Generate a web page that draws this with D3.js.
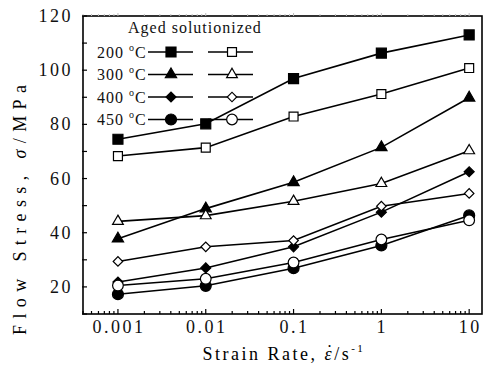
<!DOCTYPE html>
<html>
<head>
    <script src="https://d3js.org/d3.v7.min.js"></script>
    <style>
        body { margin: 0; background: #fff; }
        svg text { font-family: "Times New Roman", Times, "Liberation Serif", serif; }
        .tick-label { font-size: 18px; letter-spacing: 2.5px; fill: #111; }
        .legend text { font-size: 16px; letter-spacing: 1px; fill: #111; }
        .series-line { fill: none; stroke: #000; stroke-width: 1.6; }
    </style>
</head>
<body>
<div id="chart"></div>
<script>
// strain rates (1/s)
const rates = [0.001, 0.01, 0.1, 1, 10];
const temps = ["200", "300", "400", "450"];

// flow stress, MPa
const aged200 = [74.5, 80.2, 96.9, 106.3, 113.0];
const sol200  = [68.3, 71.4, 82.9, 91.2, 100.8];
const aged300 = [37.8, 48.9, 58.6, 71.5, 89.8];
const sol300  = [44.2, 46.3, 51.6, 58.2, 70.3];
const aged400 = [21.8, 27.0, 34.8, 47.6, 62.5];
const sol400  = [29.4, 34.8, 37.1, 49.8, 54.5];
const aged450 = [17.3, 20.4, 26.9, 35.3, 46.4];
const sol450  = [20.5, 23.0, 29.0, 37.5, 44.6];

const yTicks = [20, 40, 60, 80, 100, 120];

const series = [
    { temp: "200", shape: "square",   filled: true,  values: aged200 },
    { temp: "200", shape: "square",   filled: false, values: sol200 },
    { temp: "300", shape: "triangle", filled: true,  values: aged300 },
    { temp: "300", shape: "triangle", filled: false, values: sol300 },
    { temp: "400", shape: "diamond",  filled: true,  values: aged400 },
    { temp: "400", shape: "diamond",  filled: false, values: sol400 },
    { temp: "450", shape: "circle",   filled: true,  values: aged450 },
    { temp: "450", shape: "circle",   filled: false, values: sol450 }
];

const width = 485, height = 376;
const svg = d3.select("#chart").append("svg")
    .attr("width", width).attr("height", height);

const x = d3.scaleLog().domain([0.0004, 14]).range([83, 482]);
const y = d3.scaleLinear().domain([10, 120]).range([314, 16]);

// marker drawing
function marker(g, shape, filled) {
    let sym, size, rot = 0;
    if (shape === "square") { sym = d3.symbolSquare; size = filled ? 100 : 80; }
    if (shape === "triangle") { sym = d3.symbolTriangle; size = filled ? 55 : 50; }
    if (shape === "diamond") { sym = d3.symbolSquare; size = filled ? 50 : 45; rot = 45; }
    if (shape === "circle") { sym = d3.symbolCircle; size = filled ? 95 : 90; }
    g.append("path")
        .attr("d", d3.symbol().type(sym).size(size)())
        .attr("transform", `rotate(${rot})`)
        .attr("fill", filled ? "#000" : "#fff")
        .attr("stroke", "#000")
        .attr("stroke-width", 1.2);
}

// series lines & markers
const line = d3.line().x((d, i) => x(rates[i])).y(d => y(d));
series.forEach(s => {
    svg.append("path").datum(s.values).attr("class", "series-line").attr("d", line);
});
series.forEach(s => {
    s.values.forEach((v, i) => {
        const g = svg.append("g").attr("transform", `translate(${x(rates[i])},${y(v)})`);
        marker(g, s.shape, s.filled);
    });
});

// frame
const x0 = x.range()[0], x1 = x.range()[1], y0 = y.range()[0], y1 = y.range()[1];
svg.append("rect")
    .attr("x", x0).attr("y", y1).attr("width", x1 - x0).attr("height", y0 - y1)
    .attr("fill", "none").attr("stroke", "#000").attr("stroke-width", 1.6);

// x ticks (inward)
const xMinor = [];
for (let e = -4; e <= 1; e++) {
    for (let m = 1; m <= 9; m++) {
        const v = m * Math.pow(10, e);
        if (v >= x.domain()[0] && v <= x.domain()[1]) xMinor.push({ v, major: m === 1 });
    }
}
svg.append("g").selectAll("line").data(xMinor).join("line")
    .attr("x1", d => x(d.v)).attr("x2", d => x(d.v))
    .attr("y1", y0).attr("y2", d => y0 - (d.major ? 5 : 3))
    .attr("stroke", "#000").attr("stroke-width", 1.2);
svg.append("g").selectAll("line").data(xMinor).join("line")
    .attr("x1", d => x(d.v)).attr("x2", d => x(d.v))
    .attr("y1", y1).attr("y2", d => y1 - (d.major ? 3 : 2))
    .attr("stroke", "#bbb").attr("stroke-width", 1);

svg.append("g").selectAll("text").data(rates).join("text")
    .attr("class", "tick-label")
    .attr("x", d => x(d) + 1).attr("y", 333)
    .attr("text-anchor", "middle")
    .text(d => d3.format("~g")(d));

// y ticks
const yMinor = d3.range(10, 121, 10);
svg.append("g").selectAll("line").data(yMinor).join("line")
    .attr("x1", x0 - 1).attr("x2", x0 + 4)
    .attr("y1", d => y(d)).attr("y2", d => y(d))
    .attr("stroke", "#000").attr("stroke-width", 1.2);

svg.append("g").selectAll("text").data(yTicks).join("text")
    .attr("class", "tick-label")
    .attr("x", 73).attr("y", d => y(d) + 6)
    .attr("text-anchor", "end")
    .text(d => d);

// axis titles
const yt = svg.append("text")
    .attr("transform", "translate(26,210) rotate(-90)")
    .attr("text-anchor", "middle")
    .attr("font-size", 18)
    .attr("textLength", 250).attr("lengthAdjust", "spacing");
yt.append("tspan").text("Flow Stress, ");
yt.append("tspan").attr("font-style", "italic").text("σ");
yt.append("tspan").text("/MPa");

const xt = svg.append("text")
    .attr("x", 284).attr("y", 360)
    .attr("text-anchor", "middle")
    .attr("font-size", 18)
    .attr("letter-spacing", 2.5);
xt.append("tspan").text("Strain Rate, ");
xt.append("tspan").attr("font-style", "italic").text("ε");
xt.append("tspan").text("/s");
xt.append("tspan").attr("font-size", 11).attr("dy", -8).text("-1");
// dot over epsilon
const epsBox = xt.node().getExtentOfChar("Strain Rate, ".length);
svg.append("text")
    .attr("x", epsBox.x + epsBox.width / 2).attr("y", 358)
    .attr("text-anchor", "middle").attr("font-size", 18)
    .text("\u02D9");

// legend
const leg = svg.append("g").attr("class", "legend");
leg.append("text").attr("x", 128).attr("y", 33).text("Aged solutionized");
const legendRows = [0, 2, 4, 6];
legendRows.forEach((si, r) => {
    const ly = 52 + r * 22.5;
    const t = leg.append("text").attr("x", 97).attr("y", ly + 5.5);
    t.append("tspan").text(temps[r] + " ");
    t.append("tspan").attr("font-size", 10).attr("dy", -7).text("o");
    t.append("tspan").attr("dy", 7).text("C");
    [[148, 193, 171, true], [208, 253, 232, false]].forEach(([a, b, m, f]) => {
        leg.append("line").attr("x1", a).attr("x2", b).attr("y1", ly).attr("y2", ly)
            .attr("stroke", "#000").attr("stroke-width", 1.6);
        const g = leg.append("g").attr("transform", `translate(${m},${ly})`);
        marker(g, series[si].shape, f);
    });
});
</script>
</body>
</html>
